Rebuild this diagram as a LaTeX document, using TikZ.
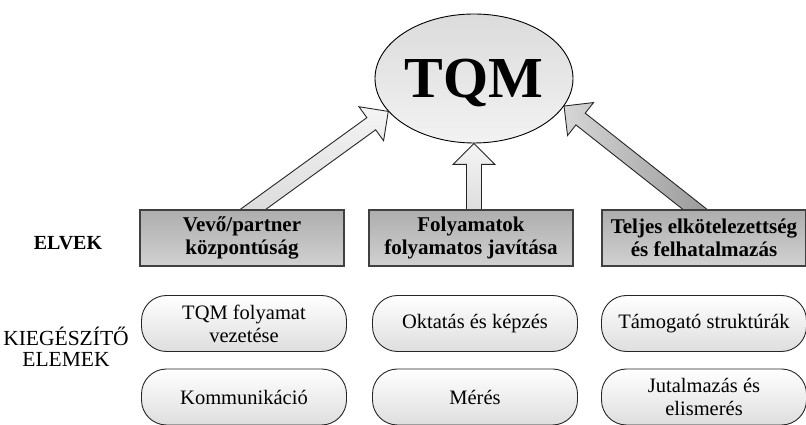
\documentclass[tikz,border=0pt]{standalone}
\usepackage{fontspec}
\setmainfont{Liberation Serif}
\usetikzlibrary{calc}
\usetikzlibrary{shapes.geometric}
\usetikzlibrary{backgrounds}

\tikzset{
  elv/.style={draw=black!75, line width=1.2pt, top color=black!32, bottom color=black!18, minimum width=204pt, minimum height=56pt, inner sep=2pt, align=center, font=\fontsize{21}{23}\selectfont\bfseries},
  kieg/.style={draw=black!85, line width=.9pt, rounded corners=25pt, top color=white, bottom color=black!13, minimum width=205pt, minimum height=56pt, inner sep=2pt, align=center, font=\fontsize{20.5}{23}\selectfont},
  nyil/.style={draw=black!85, line width=.9pt, line join=miter},
  cimke/.style={align=center, font=\fontsize{21.5}{21}\selectfont},
}

% vastag nyil: #1 kezdopont, #2 csucs, #3 kitoltes
\newcommand{\vastagnyil}[3]{%
\coordinate (ny0) at ($(#1)!-14pt!(#2)$);
\coordinate (nyh) at ($(#2)!21pt!(#1)$);
\draw[nyil, #3] ($(ny0)!7.5pt!90:(#2)$) -- ($(nyh)!7.5pt!90:(#2)$) -- ($(nyh)!21pt!90:(#2)$) -- (#2)
  -- ($(nyh)!21pt!-90:(#2)$) -- ($(nyh)!7.5pt!-90:(#2)$) -- ($(ny0)!7.5pt!-90:(#2)$) -- cycle;
}

\begin{document}
\begin{tikzpicture}[x=1pt, y=1pt]
\useasboundingbox (0,0) rectangle (806,425);

\node[ellipse, draw=black, line width=.9pt, top color=black!14, bottom color=black!5, minimum width=198pt, minimum height=129pt, inner sep=0pt, text depth=0pt, font=\fontsize{58}{60}\selectfont\bfseries] (tqm) at (474,346.5) {TQM};

% elvek
\node[elv] (vevo) at (242,187) {Vevő/partner\\központúság};
\node[elv] (folyam) at (471,187) {Folyamatok\\folyamatos javítása};
\node[elv] (teljes) at (704,187) {Teljes elkötelezettség\\és felhatalmazás};

% kiegeszito elemek
\node[kieg] (tqmvez) at (244,101.5) {TQM folyamat\\vezetése};
\node[kieg] (oktatas) at (475,101.5) {Oktatás és képzés};
\node[kieg] (tamogato) at (704,101.5) {Támogató struktúrák};
\node[kieg] (komm) at (244,28) {Kommunikáció};
\node[kieg] (meres) at (475,28) {Mérés};
\node[kieg] (jutalom) at (704,28) {Jutalmazás és\\elismerés};

\node[font=\fontsize{20}{22}\selectfont\bfseries] (elvek) at (68,182) {ELVEK};
\node[cimke] (kiegeszito) at (66,78) {KIEGÉSZÍTŐ\\ELEMEK};

\coordinate (v0) at ($(vevo.north)+(11,0)$);
\coordinate (f0) at (folyam.north -| tqm.south);
\coordinate (t0) at ($(teljes.north)+(-9,0)$);
\begin{scope}[on background layer]
\vastagnyil{v0}{tqm.201}{top color=black!4, bottom color=black!15}
\vastagnyil{f0}{tqm.south}{top color=black!4, bottom color=black!15}
\vastagnyil{t0}{tqm.343}{left color=black!16, right color=black!40}
\end{scope}
\end{tikzpicture}
\end{document}
